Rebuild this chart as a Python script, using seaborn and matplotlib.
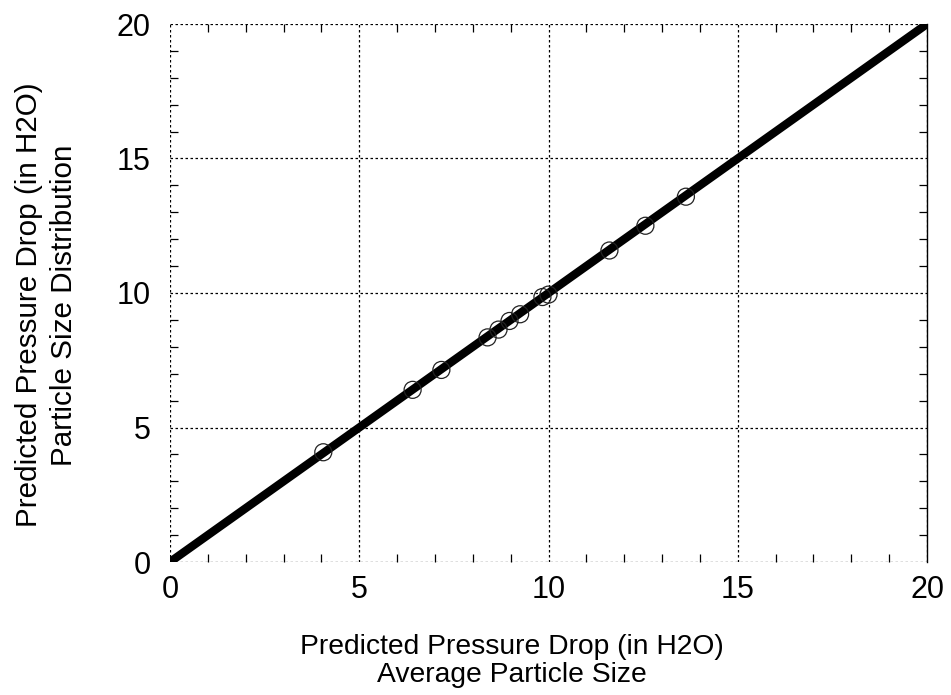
import matplotlib
matplotlib.use("Agg")
import matplotlib.pyplot as plt
import seaborn as sns
import pandas as pd
from matplotlib.ticker import MultipleLocator

sns.set_theme(style="white")
plt.rcParams['font.family'] = ['Liberation Sans', 'DejaVu Sans']

# data
avg_size = [4.05, 6.41, 7.17, 8.39, 8.68, 8.97, 9.25, 9.84, 10.0, 11.61, 12.56, 13.63]
psd = [4.08, 6.40, 7.14, 8.35, 8.64, 8.96, 9.21, 9.85, 9.94, 11.58, 12.50, 13.58]
line_x = [0, 20]
line_y = [0, 20]
ticks = [0, 5, 10, 15, 20]

fig = plt.figure(figsize=(9.51, 6.95), dpi=100)
ax = fig.add_axes([170/951, 1-562/695, (927-170)/951, (562-24)/695])

sns.lineplot(x=line_x, y=line_y, ax=ax, color='black', linewidth=6, zorder=3)
sns.scatterplot(x=avg_size, y=psd, ax=ax, marker='o', s=150, facecolor='none',
                edgecolor='#222222', linewidth=0.9, zorder=4)

ax.set_xlim(0, 20)
ax.set_ylim(0, 20)
ax.set_xticks(ticks)
ax.set_yticks(ticks)
ax.xaxis.set_minor_locator(MultipleLocator(1))
ax.yaxis.set_minor_locator(MultipleLocator(1))

ax.grid(True, which='major', color='black', linestyle=(0, (2, 2)), linewidth=0.9)
for s in ['left', 'top', 'bottom']:
    ax.spines[s].set_visible(False)
ax.spines['right'].set_color('black')
ax.spines['right'].set_linewidth(1.0)

ax.tick_params(which='both', direction='in', top=True, right=True, bottom=True, left=True,
               color='black', width=0.9)
ax.tick_params(which='major', length=0, labelsize=22, labelcolor='black')
ax.tick_params(axis='x', which='major', pad=9)
ax.tick_params(axis='y', which='major', pad=14)
ax.tick_params(which='minor', length=6)

ax.set_xlabel('Predicted Pressure Drop (in H2O)\nAverage Particle Size', fontsize=20.3,
              color='black', linespacing=1.12)
ax.set_ylabel('Predicted Pressure Drop (in H2O)\nParticle Size Distribution', fontsize=21.3,
              color='black', linespacing=1.3)
ax.xaxis.set_label_coords(0.452, -0.134)
ax.yaxis.set_label_coords(-0.1215, 0.478)

fig.savefig('out.png', dpi=100)
